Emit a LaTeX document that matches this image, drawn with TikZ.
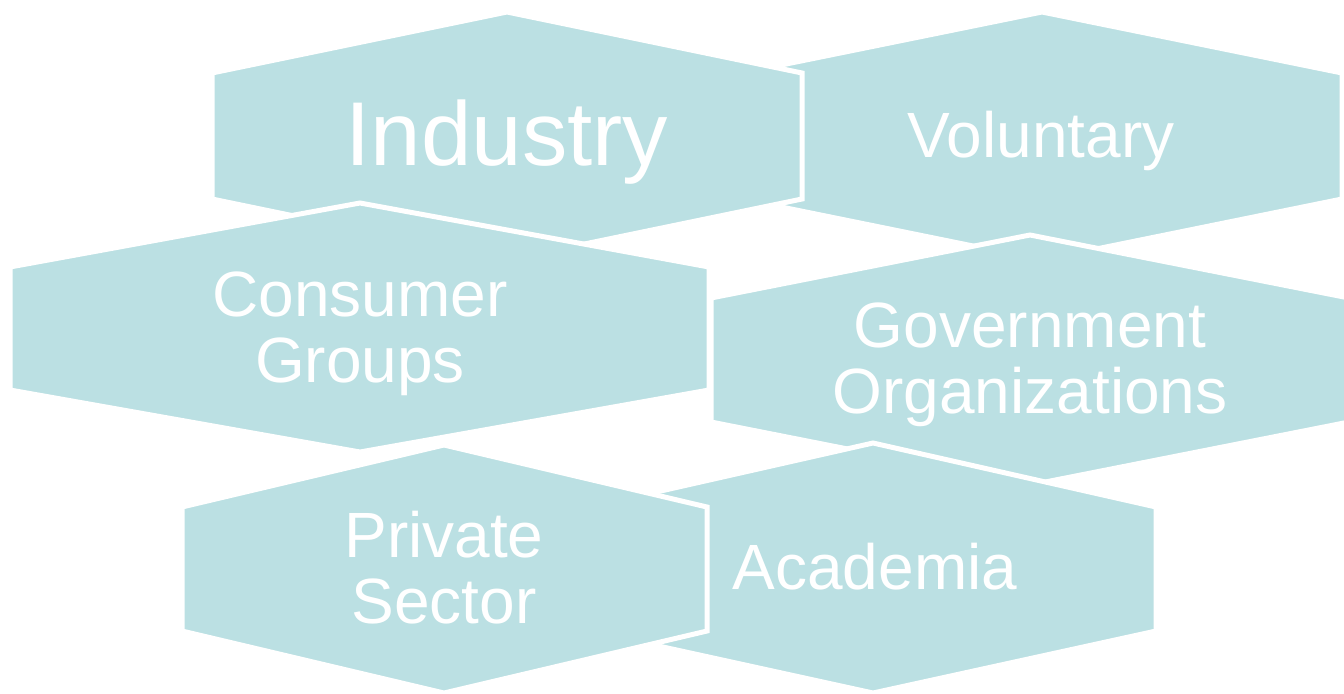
\documentclass[tikz,border=0pt]{standalone}
\usepackage{fontspec}
\setmainfont{Liberation Sans}
\definecolor{hexfill}{RGB}{187,224,227}
\begin{document}
\begin{tikzpicture}[x=0.75pt,y=-0.75pt,
  hexagon/.style={fill=hexfill,draw=white,line width=3.75pt,line join=miter},
  lbl/.style={text=white,font=\fontsize{48}{49.5}\selectfont,align=center,anchor=base,inner sep=0pt},
  biglbl/.style={lbl,font=\fontsize{68}{82}\selectfont}]
\useasboundingbox (0,0) rectangle (1344,693);
% Voluntary (bottom of the stack)
\draw[hexagon] (1042,12) -- (1342,73) -- (1342,199) -- (1042,260) -- (742,199) -- (742,73) -- cycle;
\node[lbl] (voluntary) at (1041,157) {Voluntary};
% Industry
\draw[hexagon] (507,12) -- (802,73) -- (802,199) -- (507,260) -- (212,199) -- (212,73) -- cycle;
\node[biglbl] (industry) at (507,165) {Industry};
% Consumer Groups
\draw[hexagon] (360,203) -- (709,267) -- (709,390) -- (360,452) -- (10,390) -- (10,267) -- cycle;
\node[lbl] (consumer) at (360,382) {Consumer\\Groups};
% Government Organizations
\draw[hexagon] (1030,235) -- (1349,298) -- (1349,422) -- (1030,485) -- (711,422) -- (711,298) -- cycle;
\node[lbl] (government) at (1030,413) {Government\\Organizations};
% Academia
\draw[hexagon] (873,443) -- (1156,507) -- (1156,631) -- (873,693) -- (590,631) -- (590,507) -- cycle;
\node[lbl] (academia) at (875,589) {Academia};
% Private Sector (top of the stack)
\draw[hexagon] (444,445) -- (707,507) -- (707,631) -- (444,693) -- (182,631) -- (182,507) -- cycle;
\node[lbl] (private) at (444,623) {Private\\Sector};
\end{tikzpicture}
\end{document}
